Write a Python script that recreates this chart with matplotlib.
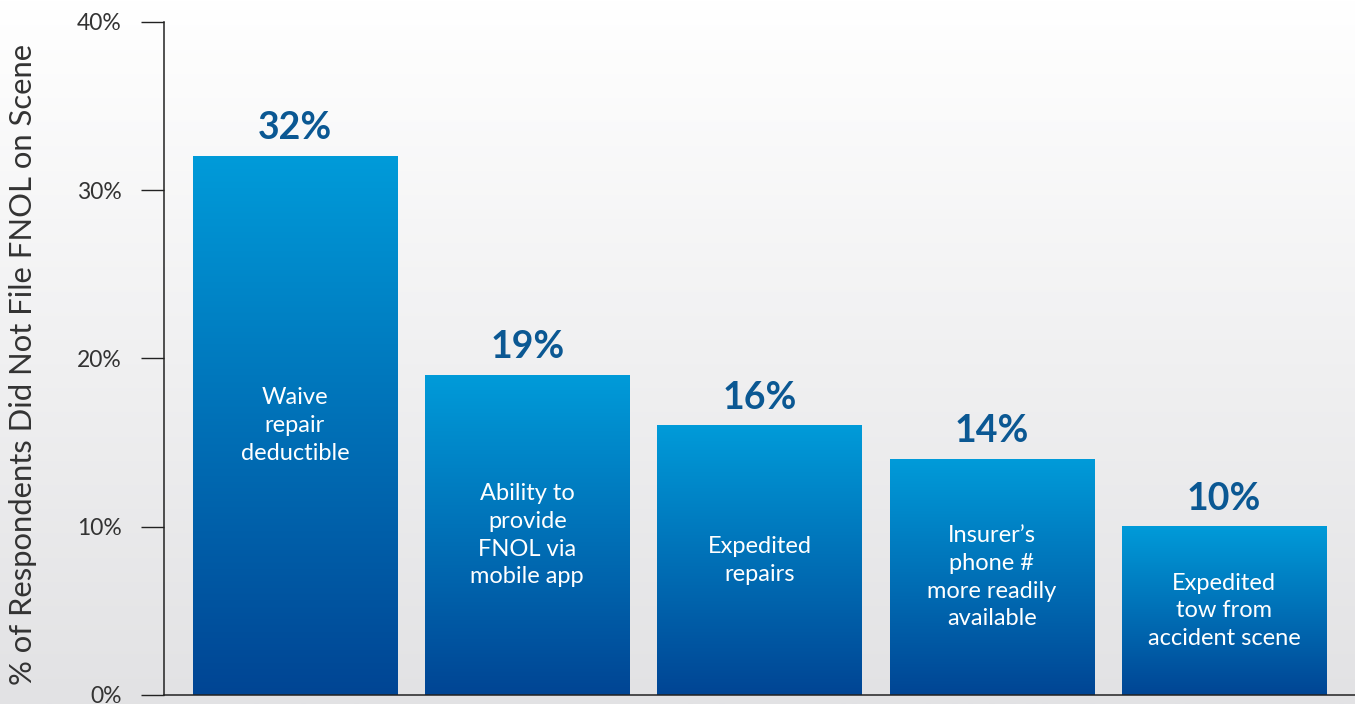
import numpy as np
import matplotlib.pyplot as plt
from matplotlib.colors import LinearSegmentedColormap

reasons = [
    "Waive\nrepair\ndeductible",
    "Ability to\nprovide\nFNOL via\nmobile app",
    "Expedited\nrepairs",
    "Insurer\u2019s\nphone #\nmore readily\navailable",
    "Expedited\ntow from\naccident scene",
]
values = [32, 19, 16, 14, 10]
yticks = [0, 10, 20, 30, 40]

plt.rcParams['font.family'] = ['Lato', 'DejaVu Sans']

fig = plt.figure(figsize=(13.55, 7.04), dpi=100)

# soft grey backdrop, white at the top
bg = fig.add_axes([0, 0, 1, 1], zorder=0)
bg_cmap = LinearSegmentedColormap.from_list('bg', ['#ffffff', '#e2e2e4'])
bg.imshow(np.linspace(0, 1, 256).reshape(-1, 1), aspect='auto', cmap=bg_cmap,
          extent=[0, 1, 0, 1])
bg.axis('off')

ax = fig.add_axes([0.121, 0.0128, 0.879, 0.956], zorder=1)
ax.patch.set_alpha(0)

bar_cmap = LinearSegmentedColormap.from_list('bar', ['#009bd9', '#004594'])
grad = np.linspace(0, 1, 256).reshape(-1, 1)
x = np.arange(len(values))
bars = ax.bar(x, values, width=0.88, color='none', edgecolor='none')
for b, v, txt in zip(bars, values, reasons):
    x0 = b.get_x()
    x1 = x0 + b.get_width()
    ax.imshow(grad, aspect='auto', cmap=bar_cmap, extent=[x0, x1, 0, v], zorder=2)
    xc = x0 + b.get_width() / 2
    ax.annotate(f"{v}%", (xc, v), xytext=(0, 8), textcoords='offset points',
                ha='center', va='bottom', fontsize=27, fontweight='bold',
                color='#0b5893', zorder=3)
    ax.text(xc, v / 2, txt, ha='center', va='center', fontsize=17,
            color='white', linespacing=1.4, zorder=3)

ax.set_xlim(-0.564, 4.563)
ax.set_ylim(0, 40)
ax.set_xticks([])
ax.set_yticks(yticks)
ax.set_yticklabels([f"{t}%" for t in yticks])
ax.tick_params(axis='y', length=16.5, width=1, color='#222222', labelsize=16.5,
               labelcolor='#333333', pad=14)
for s in ['top', 'right']:
    ax.spines[s].set_visible(False)
for s in ['left', 'bottom']:
    ax.spines[s].set_color('#222222')
    ax.spines[s].set_linewidth(1.1)

fig.text(0.017, 0.483, "% of Respondents Did Not File FNOL on Scene", rotation=90,
         ha='center', va='center', fontsize=22.3, color='#333333')

fig.savefig('out.png', dpi=100)
